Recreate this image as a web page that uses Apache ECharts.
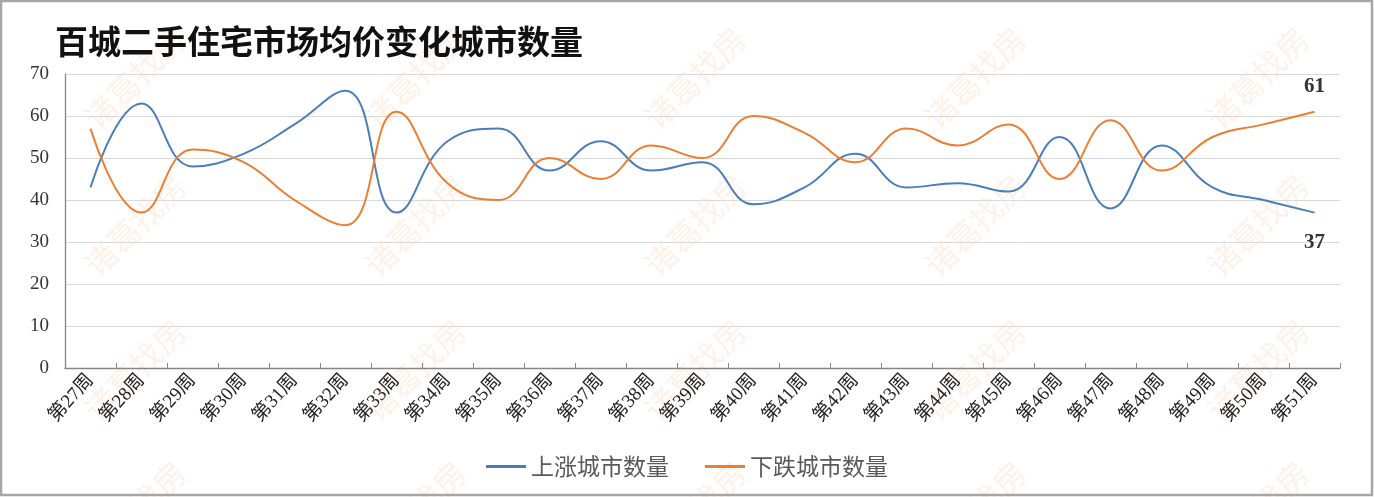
<!DOCTYPE html>
<html>
<head>
<meta charset="utf-8">
<script src="https://cdn.jsdelivr.net/npm/echarts@6/dist/echarts.min.js"></script>
<style>
html,body{margin:0;padding:0;background:#fff;}
#main{width:1374px;height:497px;}
</style>
</head>
<body>
<div id="main"></div>
<script>
var titleText = '百城二手住宅市场均价变化城市数量';
var categories = ['第27周','第28周','第29周','第30周','第31周','第32周','第33周','第34周','第35周','第36周','第37周','第38周','第39周','第40周','第41周','第42周','第43周','第44周','第45周','第46周','第47周','第48周','第49周','第50周','第51周'];
var seriesNames = ['上涨城市数量','下跌城市数量'];
var upValues = [43,63,48,51,58,66,37,54,57,47,54,47,49,39,43,51,43,44,42,55,38,53,43,40,37];
var downValues = [57,37,52,49,40,34,61,44,40,50,45,53,50,60,56,49,57,53,58,45,59,47,55,58,61];
var yTicks = [0,10,20,30,40,50,60,70];
var watermarkText = '诸葛找房';

var serifFont = '"Liberation Serif","Noto Sans CJK SC",serif';
var cjkFont = '"Noto Sans CJK SC",sans-serif';

function endMark(values, pos, dist){
  var last = values.length-1;
  return {
    symbol:'circle', symbolSize:0, silent:true,
    label:{show:true, position:pos, distance:dist, formatter:'{c}', fontFamily:serifFont, fontSize:21, fontWeight:'bold', color:'#333'},
    data:[{coord:[categories[last], values[last]], value:values[last]}]
  };
}

// watermark decorations
var graphics = [];
var wmCols = [135, 415, 695, 975, 1258];
var wmRows = [78, 225, 370, 512];
wmRows.forEach(function(y){
  wmCols.forEach(function(x){
    graphics.push({
      type:'text', x:x, y:y, rotation:Math.PI/4, z:-1,
      style:{text:watermarkText, font:'32px "Noto Sans CJK SC"', fill:'rgba(245,170,110,0.16)', align:'center', verticalAlign:'middle'}
    });
  });
});
graphics.push({
  type:'rect', z:100, silent:true,
  shape:{x:1, y:1, width:1371, height:494},
  style:{fill:'none', stroke:'#a6a6a6', lineWidth:2.5}
});
graphics.push({
  type:'text', left:55, top:25, z:10,
  style:{text:titleText, font:'bold 33px "Noto Sans CJK SC"', fill:'#111'}
});

var chart = echarts.init(document.getElementById('main'), null, {renderer:'canvas'});
chart.setOption({
  backgroundColor:'#fff',
  animation:false,
  graphic:graphics,
  legend:{
    data:seriesNames,
    bottom:14,
    left:'center',
    itemWidth:40,
    itemHeight:3,
    itemGap:36,
    icon:'rect',
    textStyle:{fontFamily:cjkFont, fontSize:23, color:'#595959'}
  },
  grid:{left:65, right:34, top:74, bottom:129, containLabel:false},
  xAxis:{
    type:'category',
    data:categories,
    boundaryGap:true,
    axisLine:{show:true, lineStyle:{color:'#868686', width:1.3}},
    axisTick:{show:true, inside:true, length:5, lineStyle:{color:'#868686'}},
    axisLabel:{rotate:48, interval:0, fontFamily:serifFont, fontSize:19, color:'#222', margin:9},
    splitLine:{show:false}
  },
  yAxis:{
    type:'value',
    min:yTicks[0],
    max:yTicks[yTicks.length-1],
    interval:10,
    axisLine:{show:true, lineStyle:{color:'#868686', width:1.3}},
    axisTick:{show:false},
    axisLabel:{fontFamily:serifFont, fontSize:19, color:'#333', margin:16},
    splitLine:{show:true, lineStyle:{color:'#d9d9d9', width:1}}
  },
  series:[
    {
      name:seriesNames[0], type:'line', smooth:0.45, showSymbol:false, symbol:'none',
      data:upValues,
      lineStyle:{color:'#4a7ebb', width:2},
      itemStyle:{color:'#4a7ebb'},
      markPoint:endMark(upValues,'bottom',19)
    },
    {
      name:seriesNames[1], type:'line', smooth:0.45, showSymbol:false, symbol:'none',
      data:downValues,
      lineStyle:{color:'#ed7d31', width:2},
      itemStyle:{color:'#ed7d31'},
      markPoint:endMark(downValues,'top',15)
    }
  ]
});
</script>
</body>
</html>
